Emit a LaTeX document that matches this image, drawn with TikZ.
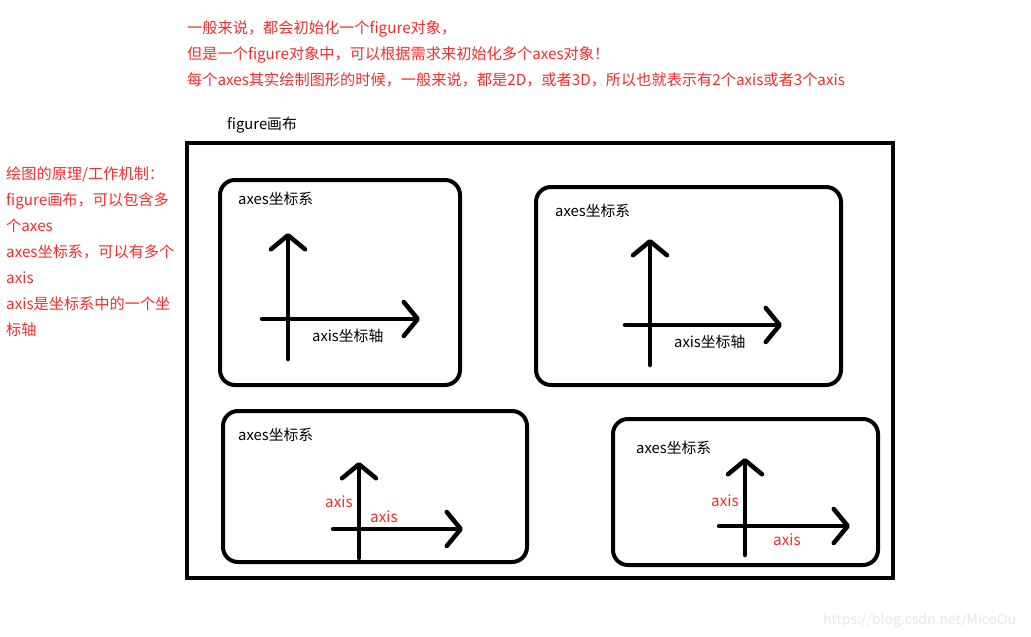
\documentclass[tikz,border=0pt]{standalone}
\usepackage{fontspec}
\setmainfont{Noto Sans CJK SC}
\usetikzlibrary{arrows.meta}
\definecolor{notered}{RGB}{255,40,40}
\definecolor{markgray}{RGB}{230,230,230}
\tikzset{
  canvas/.style={line width=4pt},
  axesbox/.style={line width=4pt, rounded corners=15pt},
  axisarrow/.style={line width=4.5pt, line cap=round, -{Straight Barb[length=14pt,width=34pt,round]}},
  blacktext/.style={anchor=base west, inner sep=0pt, font=\fontsize{14.8}{17}\selectfont},
  notetext/.style={anchor=base west, inner sep=0pt, text=notered, font=\fontsize{15.2}{18}\selectfont},
}
\begin{document}
\begin{tikzpicture}[x=1pt,y=-1pt]
  \useasboundingbox (0,0) rectangle (1031,637);

  % Notes on top
  \node[notetext] (top1) at (187,33) {一般来说，都会初始化一个figure对象，};
  \node[notetext] (top2) at (187,59) {但是一个figure对象中，可以根据需求来初始化多个axes对象！};
  \node[notetext] (top3) at (187,85) {每个axes其实绘制图形的时候，一般来说，都是2D，或者3D，所以也就表示有2个axis或者3个axis};

  % Notes on the left
  \foreach \txt [count=\i] in {绘图的原理/工作机制：, figure画布，可以包含多, 个axes, axes坐标系，可以有多个, axis, axis是坐标系中的一个坐, 标轴}
    \node[notetext] (left\i) at (6,153+26*\i) {\txt};

  % The figure canvas
  \node[blacktext] (figlabel) at (227,129) {figure画布};
  \draw[canvas] (187,143) rectangle (893,578);

  % Axes 1 (upper left)
  \draw[axesbox] (220,180) rectangle (460,385);
  \node[blacktext] (axes1) at (238,204) {axes坐标系};
  \draw[axisarrow] (288,359) -- (288,233);
  \draw[axisarrow] (262,319) -- (420,319);
  \node[blacktext] (axis1) at (312,341) {axis坐标轴};

  % Axes 2 (upper right)
  \draw[axesbox] (536,187) rectangle (841,385);
  \node[blacktext] (axes2) at (555,216) {axes坐标系};
  \draw[axisarrow] (650,365) -- (650,239);
  \draw[axisarrow] (625,325) -- (782,325);
  \node[blacktext] (axis2) at (674,347) {axis坐标轴};

  % Axes 3 (lower left)
  \draw[axesbox] (223,411) rectangle (527,562);
  \node[blacktext] (axes3) at (238,440) {axes坐标系};
  \draw[axisarrow] (359,558) -- (359,462);
  \draw[axisarrow] (333,529) -- (463,529);
  \node[notetext] (axis3y) at (325,507) {axis};
  \node[notetext] (axis3x) at (370,522) {axis};

  % Axes 4 (lower right)
  \draw[axesbox] (613,419) rectangle (878,565);
  \node[blacktext] (axes4) at (636,453) {axes坐标系};
  \draw[axisarrow] (745,555) -- (745,458);
  \draw[axisarrow] (719,526) -- (850,526);
  \node[notetext] (axis4y) at (711,506) {axis};
  \node[notetext] (axis4x) at (773,545) {axis};

  % Watermark
  \node[blacktext, text=markgray, font=\fontsize{14}{17}\selectfont] (mark) at (823,624) {https://blog.csdn.net/MicoOu};
\end{tikzpicture}
\end{document}
